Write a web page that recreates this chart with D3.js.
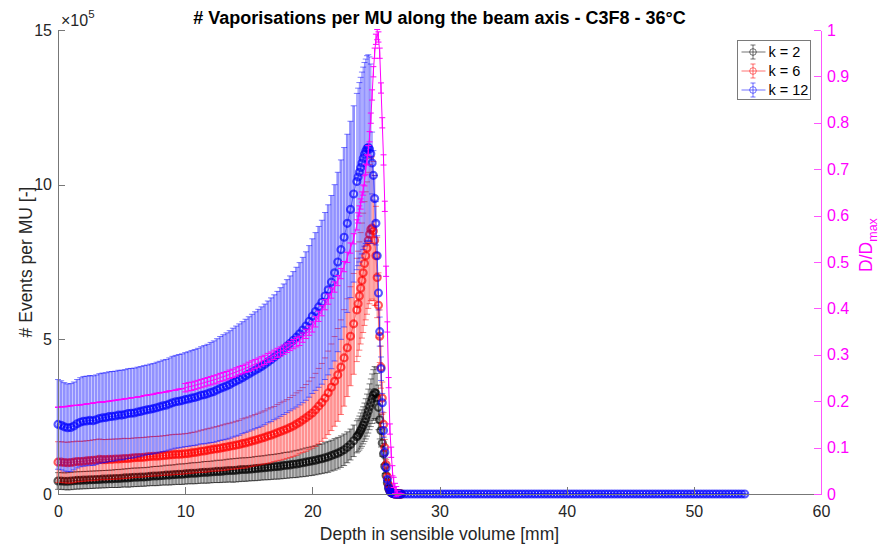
<!DOCTYPE html>
<html>
<head>
<meta charset="utf-8">
<script src="https://cdn.jsdelivr.net/npm/d3@7"></script>
<style>
  body { margin: 0; background: #fff; }
  svg { display: block; }
  text { font-family: "Liberation Sans", Arial, Helvetica, sans-serif; }
</style>
</head>
<body>
<svg width="888" height="547"></svg>
<script>
// Depth bins [mm]: 0.25 mm up to 23.5, then 0.1 mm around the peak
const depth = [
  0,0.25,0.5,0.75,1,1.25,1.5,1.75,2,2.25,2.5,2.75,3,3.25,3.5,3.75,4,4.25,4.5,4.75,
  5,5.25,5.5,5.75,6,6.25,6.5,6.75,7,7.25,7.5,7.75,8,8.25,8.5,8.75,9,9.25,9.5,9.75,
  10,10.25,10.5,10.75,11,11.25,11.5,11.75,12,12.25,12.5,12.75,13,13.25,13.5,13.75,
  14,14.25,14.5,14.75,15,15.25,15.5,15.75,16,16.25,16.5,16.75,17,17.25,17.5,17.75,
  18,18.25,18.5,18.75,19,19.25,19.5,19.75,20,20.25,20.5,20.75,21,21.25,21.5,21.75,
  22,22.25,22.5,22.75,23,23.25,23.5,
  23.6,23.7,23.8,23.9,24,24.1,24.2,24.3,24.4,24.5,24.6,24.7,24.8,24.9,25,25.1,25.2,
  25.3,25.4,25.5,25.6,25.7,25.8,25.9,26,26.1,26.2,26.3,26.4,26.5,26.6,26.7,26.8,26.9,27
];

// beyond the Bragg peak nothing is recorded (k = 12 curve runs on to 54 mm)
const tailDepth = [
  27.25,27.5,27.75,28,28.25,28.5,28.75,29,29.25,29.5,29.75,30,30.25,30.5,30.75,31,
  31.25,31.5,31.75,32,32.25,32.5,32.75,33,33.25,33.5,33.75,34,34.25,34.5,34.75,35,
  35.25,35.5,35.75,36,36.25,36.5,36.75,37,37.25,37.5,37.75,38,38.25,38.5,38.75,39,
  39.25,39.5,39.75,40,40.25,40.5,40.75,41,41.25,41.5,41.75,42,42.25,42.5,42.75,43,
  43.25,43.5,43.75,44,44.25,44.5,44.75,45,45.25,45.5,45.75,46,46.25,46.5,46.75,47,
  47.25,47.5,47.75,48,48.25,48.5,48.75,49,49.25,49.5,49.75,50,50.25,50.5,50.75,51,
  51.25,51.5,51.75,52,52.25,52.5,52.75,53,53.25,53.5,53.75,54
];
const tailValues = [
  0,0,0,0,0,0,0,0,0, 0,0,0,0,0,0,0,0,0, 0,0,0,0,0,0,0,0,0, 0,0,0,0,0,0,0,0,0,
  0,0,0,0,0,0,0,0,0, 0,0,0,0,0,0,0,0,0, 0,0,0,0,0,0,0,0,0, 0,0,0,0,0,0,0,0,0,
  0,0,0,0,0,0,0,0,0, 0,0,0,0,0,0,0,0,0, 0,0,0,0,0,0,0,0,0, 0,0,0,0,0,0,0,0,0
];

// Events per MU, in units of 1e5
const k2Mean = [
  0.42,0.42,0.41,0.41,0.42,0.43,0.44,0.44,0.45,0.45,0.46,0.46,0.47,0.47,0.48,0.48,
  0.49,0.49,0.5,0.5,0.51,0.52,0.52,0.53,0.54,0.54,0.55,0.55,0.56,0.57,0.58,0.58,
  0.59,0.6,0.61,0.61,0.62,0.63,0.64,0.64,0.65,0.66,0.67,0.67,0.68,0.69,0.7,0.7,
  0.71,0.72,0.73,0.73,0.74,0.75,0.76,0.76,0.77,0.78,0.79,0.79,0.8,0.81,0.82,0.83,
  0.84,0.85,0.86,0.87,0.88,0.89,0.9,0.92,0.93,0.94,0.96,0.97,0.99,1.01,1.03,1.05,
  1.07,1.09,1.12,1.14,1.17,1.2,1.24,1.28,1.32,1.37,1.43,1.51,1.6,1.72,1.85,
  1.9,1.97,2.05,2.13,2.22,2.32,2.43,2.55,2.68,2.82,2.95,3.08,3.2,3.28,3.25,3.1,2.8,
  2.4,2.05,1.65,1.3,0.9,0.6,0.36,0.18,0.09,0.04,0.02,0.01,0,0,0,0,0,0
];
const k2Err = [
  0.27,0.27,0.27,0.28,0.28,0.28,0.28,0.28,0.28,0.28,0.28,0.28,0.28,0.28,0.28,0.28,
  0.28,0.28,0.29,0.29,0.29,0.29,0.3,0.3,0.3,0.3,0.3,0.3,0.3,0.3,0.31,0.31,
  0.31,0.31,0.32,0.32,0.32,0.32,0.33,0.33,0.33,0.33,0.34,0.34,0.34,0.34,0.35,0.35,
  0.35,0.35,0.36,0.36,0.36,0.37,0.37,0.38,0.38,0.38,0.38,0.38,0.38,0.38,0.39,0.39,
  0.39,0.39,0.4,0.4,0.4,0.41,0.41,0.42,0.42,0.42,0.43,0.44,0.44,0.45,0.46,0.46,
  0.47,0.47,0.48,0.48,0.49,0.5,0.5,0.51,0.51,0.51,0.51,0.5,0.5,0.51,0.52,
  0.53,0.55,0.57,0.59,0.6,0.62,0.65,0.68,0.71,0.74,0.77,0.8,0.82,0.84,0.83,0.8,0.72,
  0.62,0.53,0.43,0.34,0.24,0.16,0.1,0.05,0.025,0.01,0.005,0.003,0,0,0,0,0,0
];
const k6Mean = [
  1.03,1.03,1.02,1.01,1.02,1.03,1.05,1.05,1.06,1.07,1.08,1.09,1.1,1.12,1.11,1.11,
  1.12,1.12,1.13,1.13,1.14,1.15,1.15,1.16,1.17,1.18,1.18,1.19,1.2,1.21,1.22,1.22,
  1.23,1.24,1.25,1.26,1.27,1.28,1.28,1.29,1.3,1.31,1.33,1.34,1.36,1.38,1.39,1.41,
  1.43,1.45,1.46,1.48,1.5,1.52,1.54,1.56,1.58,1.6,1.63,1.65,1.68,1.71,1.74,1.77,
  1.8,1.83,1.87,1.9,1.94,1.98,2.02,2.06,2.1,2.15,2.2,2.26,2.32,2.39,2.46,2.54,
  2.62,2.72,2.84,2.96,3.1,3.27,3.45,3.64,3.85,4.1,4.4,4.73,5.1,5.5,5.95,
  6.15,6.4,6.65,6.9,7.15,7.45,7.7,7.95,8.2,8.4,8.55,8.6,8.5,8.2,7.7,7.0,6.1,
  5.1,4.1,3.1,2.25,1.5,0.95,0.55,0.28,0.13,0.06,0.03,0.01,0,0,0,0,0,0
];
const k6Err = [
  0.66,0.66,0.66,0.66,0.67,0.66,0.66,0.65,0.65,0.65,0.65,0.66,0.66,0.66,0.65,0.65,
  0.65,0.65,0.65,0.65,0.65,0.65,0.64,0.64,0.64,0.64,0.64,0.64,0.64,0.64,0.64,0.64,
  0.64,0.64,0.64,0.65,0.65,0.65,0.65,0.65,0.65,0.65,0.66,0.66,0.67,0.68,0.69,0.7,
  0.7,0.71,0.72,0.73,0.74,0.75,0.75,0.76,0.77,0.78,0.8,0.81,0.81,0.82,0.83,0.84,
  0.85,0.86,0.88,0.89,0.89,0.91,0.93,0.94,0.95,0.97,0.99,1.01,1.02,1.05,1.08,1.11,
  1.14,1.18,1.22,1.26,1.3,1.35,1.4,1.45,1.5,1.53,1.56,1.58,1.6,1.63,1.67,
  1.7,1.75,1.8,1.86,1.93,2.0,2.07,2.14,2.2,2.25,2.3,2.3,2.25,2.1,1.6,1.3,1.05,
  0.85,0.68,0.52,0.38,0.26,0.17,0.1,0.05,0.025,0.012,0.005,0.002,0,0,0,0,0,0
];
const k12Mean = [
  2.25,2.22,2.17,2.14,2.15,2.2,2.27,2.32,2.35,2.36,2.38,2.37,2.4,2.44,2.46,2.47,
  2.5,2.51,2.52,2.55,2.55,2.57,2.6,2.61,2.62,2.65,2.67,2.7,2.72,2.74,2.76,2.79,
  2.82,2.85,2.87,2.91,2.95,2.98,3.0,3.02,3.05,3.07,3.1,3.12,3.15,3.19,3.21,3.24,
  3.28,3.31,3.36,3.41,3.45,3.49,3.54,3.6,3.65,3.7,3.76,3.82,3.88,3.94,4.0,4.06,
  4.12,4.19,4.27,4.34,4.42,4.5,4.59,4.68,4.78,4.87,4.97,5.07,5.18,5.3,5.43,5.58,
  5.75,5.9,6.05,6.2,6.4,6.6,6.85,7.15,7.5,7.9,8.3,8.75,9.2,9.7,10.1,
  10.25,10.4,10.55,10.7,10.85,10.98,11.08,11.17,11.2,11.15,11.0,10.7,10.3,9.55,8.75,7.7,6.5,
  5.25,4.05,2.95,2.05,1.35,0.85,0.47,0.22,0.1,0.05,0.02,0.01,0,0,0,0,0,0
];
const k12Err = [
  1.45,1.44,1.43,1.42,1.42,1.42,1.43,1.44,1.45,1.45,1.45,1.45,1.45,1.45,1.45,1.45,
  1.45,1.45,1.45,1.45,1.45,1.45,1.45,1.45,1.45,1.45,1.45,1.45,1.45,1.46,1.46,1.47,
  1.47,1.48,1.48,1.49,1.5,1.5,1.51,1.51,1.52,1.53,1.54,1.55,1.56,1.57,1.59,1.6,
  1.62,1.64,1.66,1.68,1.7,1.72,1.74,1.76,1.78,1.8,1.81,1.83,1.85,1.87,1.89,1.91,
  1.93,1.95,1.97,2.0,2.02,2.05,2.08,2.11,2.15,2.18,2.22,2.26,2.3,2.35,2.4,2.45,
  2.5,2.55,2.6,2.65,2.7,2.75,2.8,2.85,2.9,2.9,2.9,2.88,2.85,2.85,2.85,
  2.87,2.9,2.92,2.94,2.95,2.97,2.98,3.0,3.0,2.98,2.9,1.0,0.8,0.75,0.7,0.65,0.55,
  0.47,0.38,0.3,0.22,0.16,0.11,0.07,0.04,0.02,0.01,0.005,0.003,0,0,0,0,0,0
];

// Relative dose D/Dmax (right axis)
const dose = [
  0.187,0.188,0.188,0.189,0.19,0.191,0.191,0.192,0.193,0.194,0.195,0.196,0.197,0.198,0.198,0.199,
  0.2,0.201,0.202,0.203,0.204,0.205,0.206,0.207,0.208,0.209,0.21,0.212,0.213,0.214,0.215,0.217,
  0.218,0.219,0.22,0.222,0.223,0.224,0.226,0.227,0.229,0.231,0.232,0.234,0.236,0.238,0.24,0.242,
  0.244,0.246,0.248,0.251,0.253,0.255,0.258,0.26,0.263,0.266,0.268,0.271,0.274,0.277,0.28,0.283,
  0.286,0.289,0.293,0.296,0.3,0.304,0.307,0.311,0.315,0.319,0.323,0.327,0.33,0.337,0.345,0.352,
  0.36,0.371,0.383,0.395,0.408,0.42,0.433,0.446,0.46,0.475,0.49,0.51,0.53,0.55,0.58,
  0.595,0.61,0.625,0.64,0.655,0.675,0.7,0.72,0.74,0.77,0.81,0.86,0.91,0.95,0.98,0.99,0.985,
  0.95,0.875,0.8,0.72,0.62,0.48,0.36,0.24,0.14,0.09,0.05,0.025,0.012,0.005,0.002,0,0,0
];
const doseErr = [
  0,0,0,0,0,0,0,0,0,0,0,0,0,0,0,0,0,0,0,0,0,0,0,0,0,0,0,0,0,0,0,0,0,0,0,0,0,0,0,0,
  0.009,0.009,0.009,0.009,0.009,0.009,0.009,0.009,0.009,0.009,
  0.009,0.009,0.009,0.009,0.009,0.009,0.009,0.009,0.009,0.009,
  0.01,0.01,0.01,0.01,0.01,0.01,0.01,0.01,0.01,0.01,
  0.01,0.01,0.01,0.01,0.01,0.01,0.01,0.01,0.01,0.01,
  0.011,0.011,0.011,0.011,0.011,0.011,0.011,0.011,0.011,0.011,0.011,0.011,0.011,0.011,0.011,
  0.011,0.011,0.011,0.011,0.011,0.011,0.011,0.011,0.011,0.011,0.011,0.011,0.011,0.011,0.011,0.011,
  0.011,0.011,0.011,0.011,0.011,0.011,0.011,0.011,0.011,0.011,0.011,0.011,0.011,0.011,0.011,
  0.005,0.002,0,0
];

const leftTicks = [0, 5, 10, 15];
const rightTicks = [0, 0.1, 0.2, 0.3, 0.4, 0.5, 0.6, 0.7, 0.8, 0.9, 1];
const xTicks = [0, 10, 20, 30, 40, 50, 60];

const series = [
  { name: "k = 2", color: "#000000", mean: k2Mean, err: k2Err, tail: false },
  { name: "k = 6", color: "#ff0000", mean: k6Mean, err: k6Err, tail: false },
  { name: "k = 12", color: "#0000ff", mean: k12Mean, err: k12Err, tail: true },
];

const svg = d3.select("svg");
const font = '"Liberation Sans", Arial, Helvetica, sans-serif';

const x = d3.scaleLinear().domain([0, 60]).range([58, 821]);
const yL = d3.scaleLinear().domain([0, 15]).range([494, 30]);
const yR = d3.scaleLinear().domain([0, 1]).range([494, 30]);

function points(mean, err, withTail) {
  const d = withTail ? depth.concat(tailDepth) : depth;
  const m = withTail ? mean.concat(tailValues) : mean;
  const e = withTail ? err.concat(tailValues) : err;
  return d.map((v, i) => {
    // bar thickness follows the local bin spacing so the bars tile into a band
    const nb = i < d.length - 1 ? d[i + 1] - v : v - d[i - 1];
    return { d: v, m: m[i], e: e[i], w: x(nb) - x(0) };
  });
}

// vertical error bars
function bars(pts, y, color, opacity, width) {
  svg.append("g").attr("stroke", color).attr("stroke-opacity", opacity)
    .selectAll("line").data(pts).join("line")
    .attr("x1", (d) => x(d.d)).attr("x2", (d) => x(d.d))
    .attr("y1", (d) => y(d.m - d.e)).attr("y2", (d) => y(d.m + d.e))
    .attr("stroke-width", (d) => (width ? width : d.w * 0.85));
}

// caps, connecting line and optional circle markers
function marks(pts, y, color, alpha, markerAlpha) {
  const g = svg.append("g").attr("stroke", color).attr("fill", "none");

  [-1, 1].forEach((s) => {
    g.append("g").attr("stroke-width", 1).attr("stroke-opacity", alpha)
      .selectAll("line").data(pts).join("line")
      .attr("x1", (d) => x(d.d) - 3).attr("x2", (d) => x(d.d) + 3)
      .attr("y1", (d) => y(d.m + s * d.e)).attr("y2", (d) => y(d.m + s * d.e));
  });

  g.append("path").datum(pts)
    .attr("stroke-width", 1).attr("stroke-opacity", alpha)
    .attr("d", d3.line().x((d) => x(d.d)).y((d) => y(d.m)));

  if (markerAlpha) {
    g.append("g").attr("stroke-width", 2.1).attr("stroke-opacity", markerAlpha)
      .selectAll("circle").data(pts).join("circle")
      .attr("cx", (d) => x(d.d)).attr("cy", (d) => y(d.m)).attr("r", 3.5);
  }
}

// Layering mimics the transparent errorbars of the original: each band hides the
// bars of the band below it, while the markers below still show through tinted.
const tint = (c) => d3.interpolateRgb("#ffffff", c)(0.125);
const pts = series.map((s) => points(s.mean, s.err, s.tail));
series.forEach((s, i) => {
  bars(pts[i], yL, tint(s.color), 1);
  if (i > 0) marks(pts[i - 1], yL, series[i - 1].color, 0.5, 0.65);
  bars(pts[i], yL, s.color, 0.35);
});
marks(pts[2], yL, series[2].color, 0.5, 0.65);

const dosePts = points(dose, doseErr, false);
bars(dosePts, yR, "#ff00ff", 1, 1);
marks(dosePts, yR, "#ff00ff", 1, 0);

// axes
function styleAxis(g, lineColor, textColor) {
  g.attr("font-family", font).attr("font-size", 16);
  g.selectAll(".domain, .tick line").attr("stroke", lineColor).attr("shape-rendering", "crispEdges");
  g.selectAll("text").attr("fill", textColor);
}

svg.append("g").attr("transform", "translate(0,494)")
  .call(d3.axisBottom(x).tickValues(xTicks).tickSizeInner(-7).tickSizeOuter(0).tickPadding(12))
  .call((g) => styleAxis(g, "#777", "#262626"));

svg.append("g").attr("transform", "translate(58,0)")
  .call(d3.axisLeft(yL).tickValues(leftTicks).tickSizeInner(-7).tickSizeOuter(0).tickPadding(6))
  .call((g) => styleAxis(g, "#777", "#262626"));

svg.append("g").attr("transform", "translate(821,0)")
  .call(d3.axisRight(yR).tickValues(rightTicks).tickFormat(d3.format("~g"))
    .tickSizeInner(-7).tickSizeOuter(0).tickPadding(6))
  .call((g) => styleAxis(g, "#ff55ff", "#ff00ff"));

// exponent label
const expo = svg.append("text").attr("x", 61).attr("y", 26)
  .attr("font-size", 16).attr("fill", "#262626").text("×10");
expo.append("tspan").attr("dy", -8).attr("font-size", 11.5).text("5");

// title and axis labels
svg.append("text").attr("x", 439.5).attr("y", 24)
  .attr("text-anchor", "middle").attr("font-size", 18).attr("font-weight", "bold")
  .attr("fill", "#000").text("# Vaporisations per MU along the beam axis - C3F8 - 36°C");

svg.append("text").attr("x", 439.5).attr("y", 540)
  .attr("text-anchor", "middle").attr("font-size", 17.5).attr("fill", "#262626")
  .text("Depth in sensible volume [mm]");

svg.append("text").attr("transform", "translate(32,262) rotate(-90)")
  .attr("text-anchor", "middle").attr("font-size", 17.5).attr("fill", "#262626")
  .text("# Events per MU [-]");

const rl = svg.append("text").attr("transform", "translate(872,245) rotate(-90)")
  .attr("text-anchor", "middle").attr("font-size", 17.5).attr("fill", "#ff00ff");
rl.append("tspan").text("D/D");
rl.append("tspan").attr("dy", 5).attr("font-size", 12.5).text("max");

// legend
const legend = svg.append("g").attr("transform", "translate(737.5,40.5)");
legend.append("rect").attr("width", 73).attr("height", 59)
  .attr("fill", "#fff").attr("stroke", "#7a7a7a").attr("shape-rendering", "crispEdges");

const item = legend.selectAll("g.item").data(series).join("g")
  .attr("class", "item")
  .attr("transform", (d, i) => `translate(0,${11.5 + i * 19})`);

const icon = item.append("g")
  .attr("stroke", (d) => d.color).attr("stroke-opacity", 0.55).attr("fill", "none");
icon.append("line").attr("x1", 4).attr("x2", 28).attr("y1", 0).attr("y2", 0);
icon.append("line").attr("x1", 15.5).attr("x2", 15.5).attr("y1", -7).attr("y2", 7);
icon.append("line").attr("x1", 13).attr("x2", 18).attr("y1", -7).attr("y2", -7);
icon.append("line").attr("x1", 13).attr("x2", 18).attr("y1", 7).attr("y2", 7);
icon.append("circle").attr("cx", 15.5).attr("cy", 0).attr("r", 3.3);

item.append("text").attr("x", 31).attr("y", 5)
  .attr("font-size", 14.5).attr("fill", "#000")
  .text((d) => d.name);
</script>
</body>
</html>
